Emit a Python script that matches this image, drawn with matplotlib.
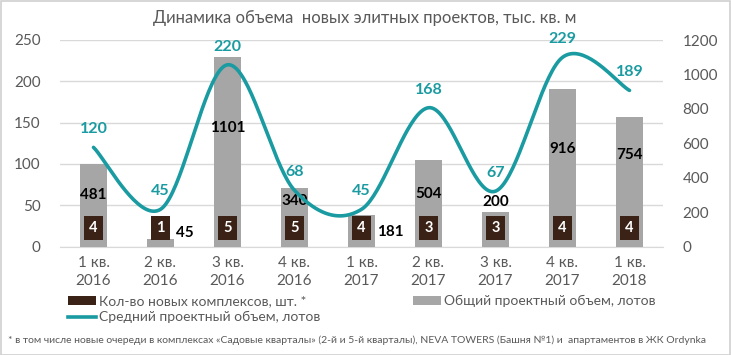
import numpy as np
import matplotlib
matplotlib.use("Agg")
import matplotlib.pyplot as plt
from matplotlib.patches import Patch, Rectangle
from matplotlib.lines import Line2D

plt.rcParams['font.family'] = ['Lato', 'DejaVu Sans']

categories = ["1 кв.\n2016", "2 кв.\n2016", "3 кв.\n2016", "4 кв.\n2016", "1 кв.\n2017",
              "2 кв.\n2017", "3 кв.\n2017", "4 кв.\n2017", "1 кв.\n2018"]
complexes = [4, 1, 5, 5, 4, 3, 3, 4, 4]
total_lots = [481, 45, 1101, 340, 181, 504, 200, 916, 754]
avg_volume = [120, 45, 220, 68, 45, 168, 67, 229, 189]

title = "Динамика объема  новых элитных проектов, тыс. кв. м"
legend_labels = ["Кол-во новых комплексов, шт. *", "Средний проектный объем, лотов",
                 "Общий проектный объем, лотов"]
footnote = ("* в том числе новые очереди в комплексах «Садовые кварталы» (2-й и 5-й кварталы), "
            "NEVA TOWERS (Башня №1) и  апартаментов в ЖК Ordynka")

C_DARK = '#3b2216'
C_GRAY = '#a6a6a6'
C_TEAL = '#1a9ba1'
C_TXT = '#595959'
C_GRID = '#d9d9d9'

fig = plt.figure(figsize=(7.31, 3.55), dpi=100)
fig.patches.append(Rectangle((0.001, 0.001), 0.998, 0.997, transform=fig.transFigure,
                             fill=False, edgecolor='#d0d0d0', linewidth=1.2))

ax = fig.add_axes([60/731, 1-246.5/355, 603/731, 206.5/355])
x = np.arange(len(categories))

# bottom axes: left scale, grid, complexes bars (hidden behind the gray bars)
ax.set_ylim(0, 250)
ax.set_xlim(-0.5, len(categories)-0.5)
ax.set_yticks(np.arange(0, 251, 50))
ax.grid(True, axis='y', color=C_GRID, linewidth=1)
ax.set_axisbelow(True)
ax.tick_params(axis='y', length=0, labelsize=11, labelcolor=C_TXT, pad=14)
ax.set_xticks(x)
ax.set_xticklabels(categories, linespacing=1.3)
ax.tick_params(axis='x', length=0, labelsize=11, labelcolor=C_TXT, pad=7)
for s in ['top', 'left', 'right']:
    ax.spines[s].set_visible(False)
ax.spines['bottom'].set_color(C_GRID)
ax.bar(x, complexes, width=0.39, color=C_DARK, zorder=2)

# middle axes: right scale, total lots
axr = ax.twinx()
axr.set_ylim(0, 1200)
axr.set_yticks(np.arange(0, 1201, 200))
axr.tick_params(axis='y', length=0, labelsize=11, labelcolor=C_TXT, pad=14)
for s in ['top', 'left', 'right', 'bottom']:
    axr.spines[s].set_visible(False)
axr.bar(x, total_lots, width=0.39, color=C_GRAY, zorder=2)
lab_dx = [0, 0.36, 0, 0, 0.43, 0, 0, 0, 0]
lab_y = [300, 81, 687, 265, 87, 306, 260, 565, 531]
for i, v in enumerate(total_lots):
    axr.text(x[i] + lab_dx[i], lab_y[i], str(v), ha='center', va='center',
             fontsize=11, fontweight='bold', color='black', zorder=5)

# top axes: left scale again, average volume line and complex labels
axl = ax.twinx()
axl.set_ylim(0, 250)
axl.set_yticks([])
for s in ['top', 'left', 'right', 'bottom']:
    axl.spines[s].set_visible(False)

for i, v in enumerate(complexes):
    axl.text(x[i], 22, str(v), ha='center', va='center', fontsize=10.5, fontweight='bold',
             color='white', zorder=6,
             bbox=dict(boxstyle='square,pad=0.35', facecolor=C_DARK, edgecolor='none'))

# smoothed line (Excel-like Bezier smoothing through the data points)
P = np.column_stack([x, avg_volume]).astype(float)
t = np.linspace(0, 1, 40)
curve = []
n = len(P)
for i in range(n - 1):
    p0 = P[i]
    p3 = P[i + 1]
    prev = P[i - 1] if i > 0 else P[i]
    nxt = P[i + 2] if i + 2 < n else P[i + 1]
    c1 = p0 + (p3 - prev) / 6.0
    c2 = p3 - (nxt - p0) / 6.0
    seg = ((1 - t)[:, None] ** 3) * p0 + 3 * ((1 - t)[:, None] ** 2) * t[:, None] * c1 \
        + 3 * (1 - t)[:, None] * (t[:, None] ** 2) * c2 + (t[:, None] ** 3) * p3
    curve.append(seg)
curve = np.vstack(curve)
axl.plot(curve[:, 0], curve[:, 1], color=C_TEAL, linewidth=2.6, zorder=4,
         solid_capstyle='round')
for i, v in enumerate(avg_volume):
    axl.annotate(str(v), (x[i], v), xytext=(0, 13), textcoords='offset points',
                 ha='center', va='center', fontsize=11.5, fontweight='bold', color=C_TEAL,
                 zorder=6)

fig.text(365/731, 1-18/355, title, ha='center', va='center', fontsize=12, color=C_TXT)

handles = [Patch(facecolor=C_DARK), Line2D([0], [0], color=C_TEAL, linewidth=2.6),
           Patch(facecolor=C_GRAY)]
fig.legend(handles, legend_labels, ncol=2, loc='upper left',
           bbox_to_anchor=(68/731, 1-295/355), frameon=False, fontsize=10,
           labelcolor=C_TXT, handlelength=2.0, handleheight=0.6, handletextpad=0.2,
           columnspacing=6.7, labelspacing=0.3, borderaxespad=0, borderpad=0)

fig.text(8/731, 1-340/355, footnote, ha='left', va='center', fontsize=7.45, color=C_TXT)

fig.savefig("out.png", dpi=100)
